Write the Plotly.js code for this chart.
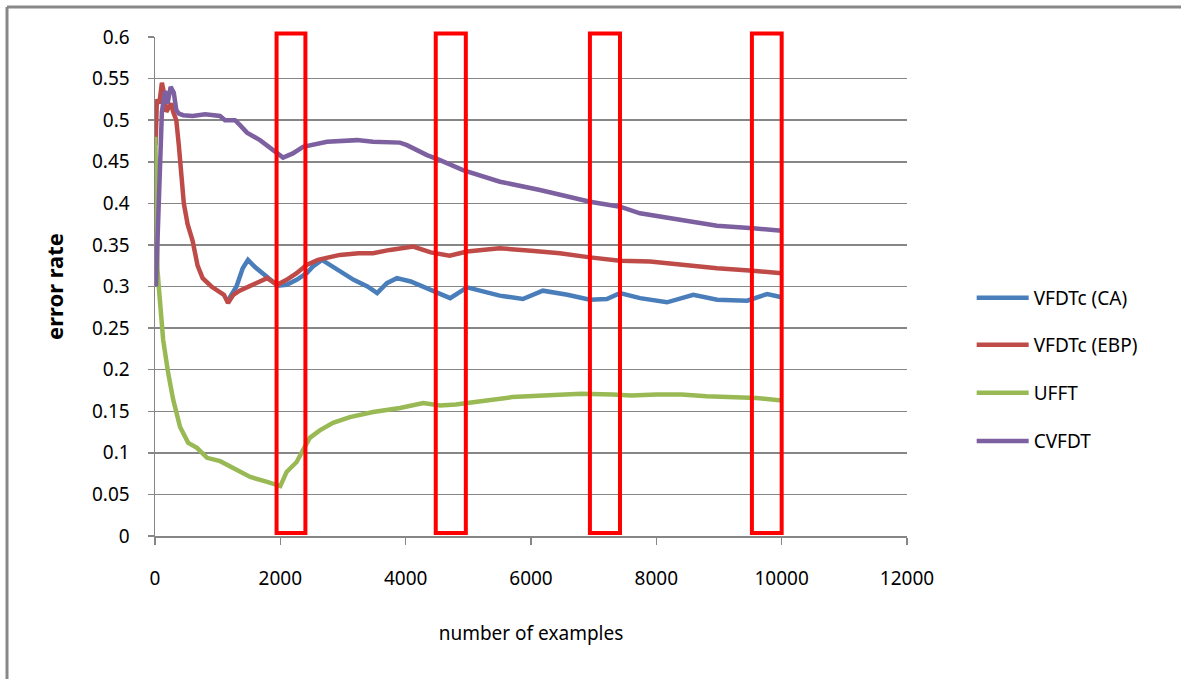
<!DOCTYPE html>
<html>
<head>
<meta charset="utf-8">
<script src="https://cdn.plot.ly/plotly-3.0.1.min.js"></script>
<style>
  html, body { margin: 0; padding: 0; background: #ffffff; }
  #chart { width: 1181px; height: 679px; }
</style>
</head>
<body>
<div id="chart"></div>
<script>
// Error rate of each learner against the number of examples seen
const seriesNames = ["VFDTc (CA)", "VFDTc (EBP)", "UFFT", "CVFDT"];

const caX = [1170, 1300, 1400, 1484, 1600, 1720, 1830, 1960, 2100, 2260, 2420, 2520, 2665, 2800, 2950, 3170, 3390, 3545, 3700, 3860, 4080, 4340, 4530, 4710, 4980, 5240, 5500, 5870, 6190, 6580, 6940, 7210, 7420, 7740, 8170, 8590, 8970, 9450, 9770, 10000];
const caY = [0.284, 0.300, 0.322, 0.332, 0.323, 0.316, 0.310, 0.301, 0.302, 0.308, 0.316, 0.324, 0.332, 0.326, 0.318, 0.308, 0.300, 0.292, 0.304, 0.310, 0.306, 0.298, 0.292, 0.286, 0.299, 0.294, 0.289, 0.285, 0.295, 0.290, 0.284, 0.285, 0.292, 0.286, 0.281, 0.290, 0.284, 0.283, 0.291, 0.287];

const ebpX = [10, 30, 70, 110, 150, 180, 220, 260, 290, 340, 380, 420, 460, 520, 600, 680, 760, 900, 1000, 1100, 1165, 1250, 1350, 1500, 1650, 1790, 1950, 2100, 2260, 2420, 2600, 2750, 2950, 3250, 3480, 3750, 4120, 4400, 4700, 4980, 5500, 6000, 6460, 6940, 7420, 7900, 8430, 8970, 9540, 10000];
const ebpY = [0.470, 0.525, 0.520, 0.545, 0.530, 0.510, 0.515, 0.520, 0.510, 0.500, 0.470, 0.430, 0.400, 0.375, 0.355, 0.325, 0.310, 0.300, 0.295, 0.290, 0.280, 0.290, 0.295, 0.300, 0.305, 0.310, 0.302, 0.308, 0.316, 0.326, 0.332, 0.334, 0.338, 0.340, 0.340, 0.344, 0.348, 0.341, 0.337, 0.342, 0.346, 0.343, 0.340, 0.335, 0.331, 0.330, 0.326, 0.322, 0.319, 0.316];

const ufftX = [5, 20, 40, 60, 80, 130, 210, 290, 400, 530, 670, 830, 1040, 1250, 1520, 1790, 2000, 2100, 2260, 2360, 2470, 2630, 2840, 3110, 3480, 3910, 4280, 4550, 4800, 5200, 5700, 6200, 6800, 7300, 7600, 8000, 8400, 8800, 9200, 9600, 10000];
const ufftY = [0.480, 0.400, 0.320, 0.300, 0.284, 0.236, 0.196, 0.164, 0.131, 0.112, 0.106, 0.094, 0.090, 0.082, 0.071, 0.065, 0.060, 0.077, 0.089, 0.103, 0.118, 0.127, 0.136, 0.143, 0.149, 0.154, 0.160, 0.157, 0.158, 0.162, 0.167, 0.169, 0.171, 0.170, 0.169, 0.170, 0.170, 0.168, 0.167, 0.166, 0.163];

const cvfdtX = [15, 60, 110, 160, 200, 250, 300, 340, 380, 450, 600, 800, 1037, 1117, 1277, 1356, 1468, 1675, 1883, 2043, 2200, 2362, 2745, 3223, 3479, 3909, 4021, 4340, 4548, 4915, 5505, 6143, 6941, 7420, 7739, 8425, 8968, 9543, 10000];
const cvfdtY = [0.300, 0.420, 0.510, 0.535, 0.520, 0.540, 0.533, 0.512, 0.508, 0.506, 0.505, 0.507, 0.505, 0.500, 0.500, 0.494, 0.485, 0.476, 0.464, 0.455, 0.460, 0.468, 0.474, 0.476, 0.474, 0.473, 0.470, 0.458, 0.452, 0.440, 0.426, 0.416, 0.402, 0.396, 0.388, 0.380, 0.373, 0.370, 0.367];

// Highlighted example windows (number of examples)
const windowStart = [1940, 4480, 6940, 9525];
const windowEnd = [2400, 4960, 7420, 10000];

const xTicks = [0, 2000, 4000, 6000, 8000, 10000, 12000];
const yTicks = [0, 0.05, 0.1, 0.15, 0.2, 0.25, 0.3, 0.35, 0.4, 0.45, 0.5, 0.55, 0.6];

const colors = ["#4A7EBB", "#BE4B48", "#98B954", "#7D60A0"];
const xs = [caX, ebpX, ufftX, cvfdtX];
const ys = [caY, ebpY, ufftY, cvfdtY];
const legendIds = ["legend", "legend2", "legend3", "legend4"];
const legendY = [0.477, 0.383, 0.287, 0.190];

const FONT = "Noto Sans, DejaVu Sans, sans-serif";

// series order keeps CVFDT drawn on top
const traces = seriesNames.map((name, i) => ({
  type: "scatter",
  mode: "lines",
  name: name,
  x: xs[i],
  y: ys[i],
  line: { color: colors[i], width: 4.5 },
  legend: legendIds[i],
  hoverinfo: "x+y+name"
}));

const shapes = windowStart.map((s, i) => ({
  type: "rect",
  xref: "x",
  yref: "paper",
  x0: s,
  x1: windowEnd[i],
  y0: 0.006,
  y1: 1.007,
  line: { color: "#FF0000", width: 4 },
  fillcolor: "rgba(0,0,0,0)",
  layer: "above"
}));

// outer frame: top and left edges
shapes.push({
  type: "line", xref: "paper", yref: "paper",
  x0: -0.1968, x1: 1.37, y0: 1.0601, y1: 1.0601,
  line: { color: "#888888", width: 3 }
});
shapes.push({
  type: "line", xref: "paper", yref: "paper",
  x0: -0.1968, x1: -0.1968, y0: 1.0601, y1: -0.30,
  line: { color: "#888888", width: 3 }
});

const legendBase = {
  x: 1.086,
  xanchor: "left",
  yanchor: "middle",
  bgcolor: "rgba(0,0,0,0)",
  borderwidth: 0,
  itemwidth: 52,
  font: { family: FONT, size: 19, color: "#000000" }
};

const layout = {
  width: 1181,
  height: 679,
  paper_bgcolor: "#ffffff",
  plot_bgcolor: "#ffffff",
  margin: { l: 155, r: 274, t: 37, b: 143 },
  showlegend: true,
  xaxis: {
    range: [0, 12000],
    tickvals: xTicks,
    ticktext: xTicks.map(String),
    showgrid: false,
    zeroline: false,
    showline: true,
    linecolor: "#868686",
    linewidth: 1.5,
    ticks: "outside",
    ticklen: 7,
    tickcolor: "#868686",
    tickwidth: 1.5,
    ticklabelstandoff: 18,
    tickfont: { family: FONT, size: 19, color: "#000000" },
    title: {
      text: "number of examples",
      font: { family: FONT, size: 19, color: "#000000" },
      standoff: 36
    },
    fixedrange: true
  },
  yaxis: {
    range: [0, 0.6],
    tickvals: yTicks,
    ticktext: yTicks.map(String),
    showgrid: true,
    gridcolor: "#868686",
    gridwidth: 1.5,
    zeroline: false,
    showline: true,
    linecolor: "#868686",
    linewidth: 1.5,
    ticks: "outside",
    ticklen: 6,
    tickcolor: "#868686",
    tickwidth: 1.5,
    ticklabelstandoff: 14,
    tickfont: { family: FONT, size: 19, color: "#000000" },
    title: {
      text: "<b>error rate</b>",
      font: { family: FONT, size: 22, color: "#000000" },
      standoff: 22
    },
    fixedrange: true
  },
  shapes: shapes
};

legendIds.forEach((id, i) => {
  layout[id] = Object.assign({}, legendBase, { y: legendY[i] });
});

Plotly.newPlot("chart", traces, layout, { displayModeBar: false, staticPlot: true });
</script>
</body>
</html>
